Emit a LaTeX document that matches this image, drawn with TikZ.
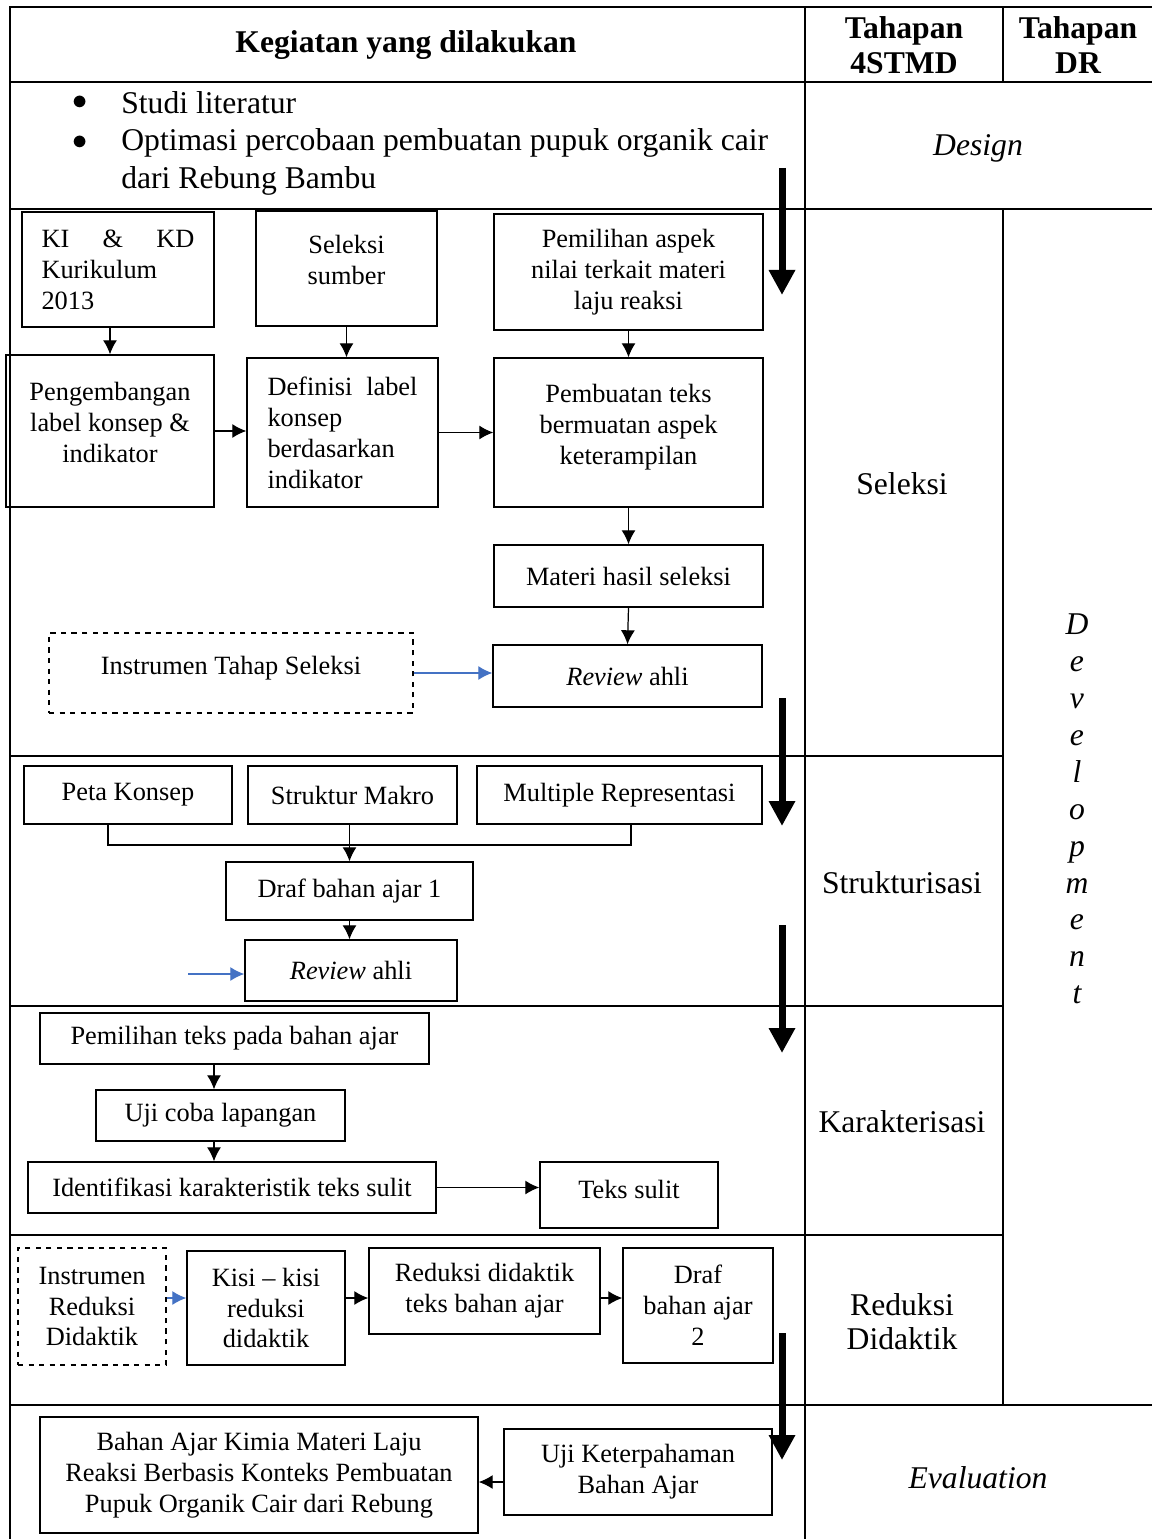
\documentclass[tikz,border=0pt]{standalone}
\usepackage{fontspec}
\setmainfont{Liberation Serif}
\usepackage{tikz}
\usetikzlibrary{arrows.meta}

\definecolor{refblue}{RGB}{68,114,196}
\newcommand{\cellfont}{\fontsize{15}{17.6}\selectfont}
\newcommand{\stagefont}{\fontsize{18}{20.5}\selectfont}

\tikzset{
	box/.style={draw, line width=0.8pt, align=center, inner sep=2pt, font=\cellfont},
	dbox/.style={box, dashed},
	stage/.style={align=center, font=\stagefont},
	flow/.style={-{Latex[length=0.28cm,width=0.28cm]}, line width=0.7pt},
	blueflow/.style={flow, draw=refblue, -{Latex[length=0.28cm,width=0.28cm,fill=refblue]}},
	bigarrow/.style={-{Triangle[length=0.5cm,width=0.5cm]}, line width=0.14cm},
	grid/.style={line width=1.3pt},
	thingrid/.style={line width=1pt}
}

\begin{document}
\begin{tikzpicture}
		\useasboundingbox (0,0) rectangle (23.02,-30.78);
		%table
		\draw[grid] (0.2,-0.14) rectangle (23.3,-31.2);
		\draw[grid] (0.2,-1.64) -- (23.3,-1.64);
		\draw[grid] (0.2,-4.18) -- (23.3,-4.18);
		\draw[grid] (0.2,-28.1) -- (23.3,-28.1);
		\foreach \y in {-15.12,-20.12,-24.7}{
		\draw[thingrid] (0.2,\y) -- (20.06,\y);}
		\draw[grid] (16.1,-0.14) -- (16.1,-31.2);
		\draw[grid] (20.06,-0.14) -- (20.06,-1.64);
		\draw[grid] (20.06,-4.18) -- (20.06,-28.1);
		
		%header
		\node[stage, font=\stagefont\bfseries] (hkeg) at (8.12,-0.9) {Kegiatan yang dilakukan};
		\node[stage, font=\fontsize{18}{20}\selectfont\bfseries] (h4stmd) at (18.08,-0.9) {Tahapan\\4STMD};
		\node[stage, font=\fontsize{18}{20}\selectfont\bfseries] (hdr) at (21.56,-0.9) {Tahapan\\DR};
		
		%design
		\node[font=\stagefont] (bul1) at (1.6,-2.06) {$\bullet$};
		\node[font=\stagefont] (bul2) at (1.6,-2.86) {$\bullet$};
		\node[stage, anchor=west, inner sep=0pt] (studi) at (2.42,-2.06) {Studi literatur};
		\node[stage, anchor=west, align=left, inner sep=0pt, font=\fontsize{18}{21.5}\selectfont] (optim) at (2.42,-3.24) {Optimasi percobaan pembuatan pupuk organik cair\\dari Rebung Bambu};
		\node[stage, font=\stagefont\itshape] (design) at (19.56,-2.96) {Design};
		
		%seleksi
		\node[box, minimum width=3.84cm, minimum height=2.3cm, text width=3.06cm, align=left] (kikd) at (2.36,-5.39) {KI\hfill\&\hfill KD\\Kurikulum\\2013};
		\node[box, minimum width=3.62cm, minimum height=2.3cm, text depth=0.36cm] (sumber) at (6.93,-5.37) {Seleksi\\sumber};
		\node[box, minimum width=5.38cm, minimum height=2.32cm] (aspek) at (12.57,-5.44) {Pemilihan aspek\\nilai terkait materi\\laju reaksi};
		\node[box, minimum width=4.16cm, minimum height=3.04cm, text depth=0.36cm] (kembang) at (2.2,-8.62) {Pengembangan\\label konsep \&\\indikator};
		\node[box, minimum width=3.82cm, minimum height=2.98cm, text width=3.0cm, align=left] (definisi) at (6.85,-8.65) {Definisi\hfill label\\konsep\\berdasarkan\\indikator};
		\node[box, minimum width=5.38cm, minimum height=2.98cm, text depth=0.32cm] (teks) at (12.57,-8.65) {Pembuatan teks\\bermuatan aspek\\keterampilan};
		\node[box, minimum width=5.38cm, minimum height=1.24cm] (materi) at (12.57,-11.52) {Materi hasil seleksi};
		\node[box, minimum width=5.38cm, minimum height=1.24cm] (review1) at (12.55,-13.52) {\textit{Review} ahli};
		\node[dbox, minimum width=7.28cm, minimum height=1.6cm, text depth=0.32cm] (instr1) at (4.62,-13.46) {Instrumen Tahap Seleksi};
		\draw[flow] (kikd.south -| kembang.north) -- (kembang.north);
		\draw[flow] (sumber.south) -- (sumber.south |- definisi.north);
		\draw[flow] (aspek.south) -- (teks.north);
		\draw[flow] (kembang.east) -- (kembang.east -| definisi.west);
		\draw[flow] (definisi.east) -- (definisi.east -| teks.west);
		\draw[flow] (teks.south) -- (materi.north);
		\draw[flow] (materi.south) -- (review1.north);
		\draw[blueflow] (instr1.east) -- (instr1.east -| review1.west);
		\node[stage] (seleksi) at (18.04,-9.68) {Seleksi};
		
		%strukturisasi
		\node[box, minimum width=4.16cm, minimum height=1.16cm] (peta) at (2.56,-15.9) {Peta Konsep};
		\node[box, minimum width=4.18cm, minimum height=1.16cm] (makro) at (7.05,-15.9) {Struktur Makro};
		\node[box, minimum width=5.7cm, minimum height=1.16cm] (multi) at (12.39,-15.9) {Multiple Representasi};
		\node[box, minimum width=4.94cm, minimum height=1.16cm] (draf1) at (6.99,-17.82) {Draf bahan ajar 1};
		\node[box, minimum width=4.24cm, minimum height=1.22cm] (review2) at (7.02,-19.41) {\textit{Review} ahli};
		\coordinate (pj) at (2.16,-16.9);
		\coordinate (mj) at (12.62,-16.9);
		\coordinate (bluein) at (3.76,-19.48);
		\draw[line width=0.7pt] (peta.south -| pj) -- (pj) -- (mj) -- (multi.south -| mj);
		\draw[flow] (makro.south -| draf1.north) -- (draf1.north);
		\draw[flow] (draf1.south) -- (draf1.south |- review2.north);
		\draw[blueflow] (bluein) -- (bluein -| review2.west);
		\node[stage] (struktur) at (18.04,-17.66) {Strukturisasi};
		
		%karakterisasi
		\node[box, minimum width=7.78cm, minimum height=1.02cm] (pilih) at (4.69,-20.77) {Pemilihan teks pada bahan ajar};
		\node[box, minimum width=4.98cm, minimum height=1.02cm] (ujicoba) at (4.41,-22.31) {Uji coba lapangan};
		\node[box, minimum width=8.16cm, minimum height=1.02cm] (identif) at (4.64,-23.75) {Identifikasi karakteristik teks sulit};
		\node[box, minimum width=3.56cm, minimum height=1.32cm, text depth=0.24cm] (sulit) at (12.58,-23.9) {Teks sulit};
		\coordinate (kx) at (4.28,-22);
		\draw[flow] (pilih.south -| kx) -- (ujicoba.north -| kx);
		\draw[flow] (ujicoba.south -| kx) -- (identif.north -| kx);
		\draw[flow] (identif.east) -- (identif.east -| sulit.west);
		\node[stage] (karakter) at (18.04,-22.44) {Karakterisasi};
		
		%reduksi didaktik
		\node[dbox, minimum width=2.96cm, minimum height=2.34cm] (instr2) at (1.84,-26.13) {Instrumen\\Reduksi\\Didaktik};
		\node[box, minimum width=3.16cm, minimum height=2.28cm] (kisi) at (5.32,-26.16) {Kisi -- kisi\\reduksi\\didaktik};
		\node[box, minimum width=4.62cm, minimum height=1.72cm] (redteks) at (9.69,-25.82) {Reduksi didaktik\\teks bahan ajar};
		\node[box, minimum width=3.0cm, minimum height=2.3cm] (draf2) at (13.96,-26.11) {Draf\\bahan ajar\\2};
		\coordinate (rj) at (0,-25.96);
		\draw[blueflow] (instr2.east |- rj) -- (kisi.west |- rj);
		\draw[flow] (kisi.east |- rj) -- (redteks.west |- rj);
		\draw[flow] (redteks.east |- rj) -- (draf2.west |- rj);
		\node[stage, font=\fontsize{18}{19.3}\selectfont] (reduksi) at (18.04,-26.44) {Reduksi\\Didaktik};
		
		\node[stage, font=\fontsize{18}{21}\selectfont\itshape] (devel) at (21.54,-16.18) {D\\e\\v\\e\\l\\o\\p\\m\\e\\n\\t};
		
		%evaluation
		\node[box, minimum width=8.76cm, minimum height=2.32cm] (hasil) at (5.18,-29.5) {Bahan Ajar Kimia Materi Laju\\Reaksi Berbasis Konteks Pembuatan\\Pupuk Organik Cair dari Rebung};
		\node[box, minimum width=5.36cm, minimum height=1.72cm] (ujipaham) at (12.76,-29.44) {Uji Keterpahaman\\Bahan Ajar};
		\coordinate (ej) at (0,-29.64);
		\draw[flow] (ujipaham.west |- ej) -- (hasil.east |- ej);
		\node[stage, font=\stagefont\itshape] (evaluation) at (19.56,-29.56) {Evaluation};
		
		%stage arrows
		\foreach \a/\b in {-3.36/-5.9,-13.96/-16.52,-18.5/-21.06,-26.66/-29.2}{
		\draw[bigarrow] (15.64,\a) -- (15.64,\b);}
		
\end{tikzpicture}
\end{document}
